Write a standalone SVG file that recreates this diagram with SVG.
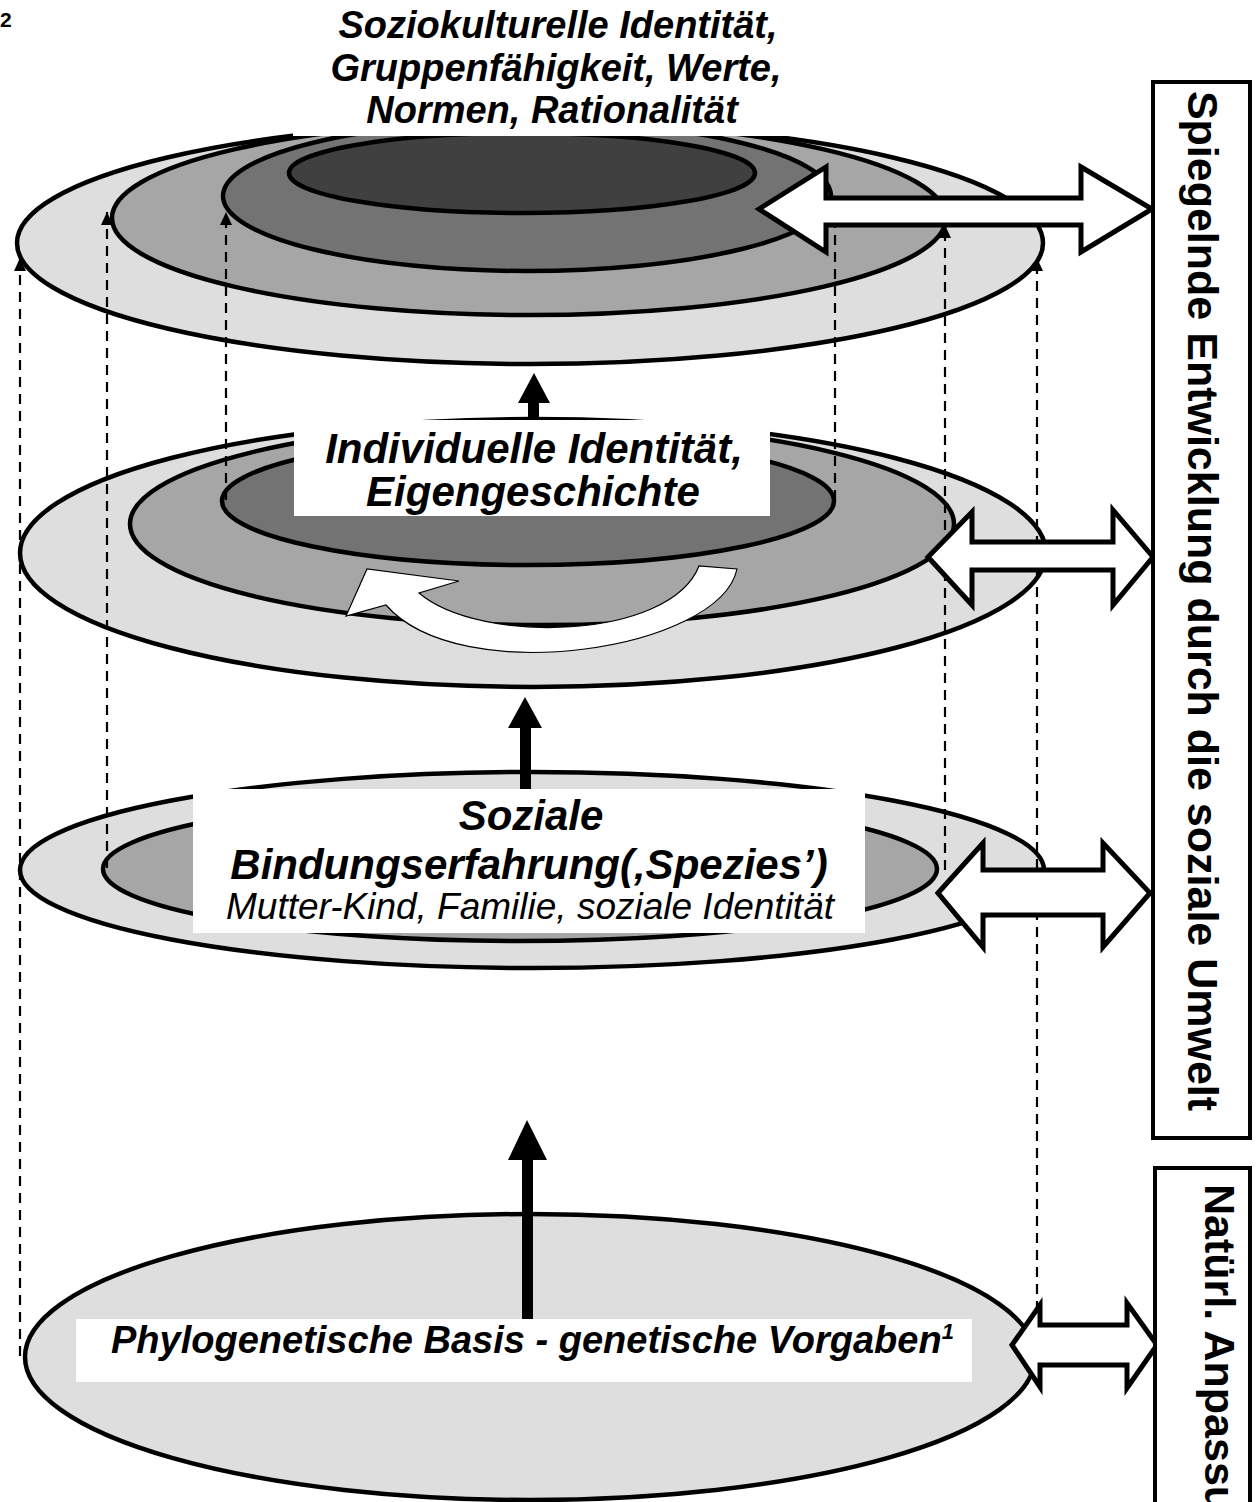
<svg xmlns="http://www.w3.org/2000/svg" width="1258" height="1502" viewBox="0 0 1258 1502">
<style>
.e{stroke:#000;stroke-width:4.5}
.c1{fill:#dedede}.c2{fill:#a6a6a6}.c3{fill:#737373}.c4{fill:#404040}
.t{font-family:"Liberation Sans",Arial,sans-serif;font-weight:bold;font-style:italic;fill:#000}
.n{font-family:"Liberation Sans",Arial,sans-serif;font-style:italic;fill:#000}
.num{font-family:"Liberation Sans",Arial,sans-serif;font-weight:bold;font-size:21px;fill:#000}
.v{font-family:"Liberation Sans",Arial,sans-serif;font-weight:bold;font-size:43px;fill:#000}
.d{stroke:#000;stroke-width:2.2;stroke-dasharray:10 7;fill:none}
.da{fill:#fff;stroke:#000;stroke-width:5;stroke-linejoin:miter}
.box{fill:#fff}
.side{fill:#fff;stroke:#000;stroke-width:4}
</style>
<defs>
<marker id="ah" markerUnits="userSpaceOnUse" markerWidth="14" markerHeight="12" refX="13" refY="6" orient="auto">
<path d="M0,0 L13,6 L0,12 Z" fill="#000"/>
</marker>
</defs>
<rect width="1258" height="1502" fill="#fff"/>

<text class="num" x="0" y="27">2</text>

<g id="level-bottom">
<ellipse class="e c1" cx="530" cy="1357" rx="505" ry="143"/>
</g>

<g id="level-social">
<ellipse class="e c1" cx="532" cy="870" rx="512" ry="98"/>
<ellipse class="e c2" cx="520" cy="869" rx="417" ry="72"/>
</g>

<g id="level-individual">
<ellipse class="e c1" cx="533" cy="553" rx="513" ry="134"/>
<ellipse class="e c2" cx="542" cy="524" rx="412" ry="101"/>
<ellipse class="e c3" cx="528" cy="501" rx="306" ry="64"/>
</g>

<g id="level-top">
<ellipse class="e c1" cx="530" cy="243" rx="513" ry="121"/>
<ellipse class="e c2" cx="529" cy="218" rx="417" ry="97"/>
<ellipse class="e c3" cx="527" cy="196" rx="304" ry="75"/>
<ellipse class="e c4" cx="522" cy="173" rx="233" ry="40"/>
<rect class="box" x="293" y="0" width="504" height="136"/>
</g>

<g id="connectors">
<line class="d" x1="20" y1="1356" x2="20" y2="258" marker-end="url(#ah)"/>
<line class="d" x1="107" y1="868" x2="107" y2="212" marker-end="url(#ah)"/>
<line class="d" x1="226" y1="500" x2="226" y2="212" marker-end="url(#ah)"/>
<line class="d" x1="835" y1="500" x2="835" y2="196" marker-end="url(#ah)"/>
<line class="d" x1="945" y1="870" x2="945" y2="225" marker-end="url(#ah)"/>
<line class="d" x1="1037" y1="1345" x2="1037" y2="258" marker-end="url(#ah)"/>
<path d="M528,420 L528,403 L518,403 L534,373 L550,403 L539,403 L539,420 Z" fill="#000"/>
<path d="M520,792 L520,728 L508,728 L525,697 L542,728 L531,728 L531,792 Z" fill="#000"/>
<path d="M522,1319 L522,1160 L508,1160 L527,1120 L547,1160 L533,1160 L533,1319 Z" fill="#000"/>
<path d="M737,569 C720,650 460,690 386,605 L346,616 L367,569 L459,581 L419,593 C480,645 670,640 699,566 Z" fill="#fff" stroke="#000" stroke-width="1.2"/>
</g>

<g id="label-top">
<text class="t" font-size="38" text-anchor="middle"><tspan x="558" y="38">Soziokulturelle Identität,</tspan><tspan x="556" y="80.5">Gruppenfähigkeit, Werte,</tspan><tspan x="552" y="123">Normen, Rationalität</tspan></text>
</g>

<g id="label-individual">
<rect class="box" x="294" y="420" width="476" height="96"/>
<text class="t" font-size="42" text-anchor="middle"><tspan x="534" y="463">Individuelle Identität,</tspan><tspan x="533" y="506">Eigengeschichte</tspan></text>
</g>

<g id="label-social">
<rect class="box" x="193" y="789" width="672" height="144"/>
<text class="t" font-size="42" text-anchor="middle"><tspan x="531" y="830">Soziale</tspan><tspan x="529" y="879">Bindungserfahrung(‚Spezies’)</tspan></text>
<text class="n" font-size="37" text-anchor="middle" x="530" y="919">Mutter-Kind, Familie, soziale Identität</text>
</g>

<g id="label-bottom">
<rect class="box" x="76" y="1319" width="896" height="63"/>
<text class="t" font-size="38" x="111" y="1353">Phylogenetische Basis - genetische Vorgaben<tspan font-size="22" dy="-14">1</tspan></text>
</g>

<g id="double-arrows">
<polygon class="da" points="759,209 826,167 826,198 1081,198 1081,167 1152,209 1081,252 1081,225 826,225 826,252"/>
<polygon class="da" points="928,557 972,512 972,542 1113,542 1113,510 1153,557 1113,605 1113,570 972,570 972,605"/>
<polygon class="da" points="938,893 983,843 983,870 1103,870 1103,843 1150,893 1103,947 1103,915 983,915 983,947"/>
<polygon class="da" points="1012,1345 1040,1305 1040,1325 1127,1325 1127,1303 1157,1345 1127,1388 1127,1365 1040,1365 1040,1387"/>
</g>

<g id="box-spiegelnde">
<rect class="side" x="1153" y="82" width="97" height="1056"/>
<text class="v" transform="translate(1188,601) rotate(90)" text-anchor="middle">Spiegelnde Entwicklung durch die soziale Umwelt</text>
</g>

<g id="box-natuerl">
<rect class="side" x="1155" y="1168" width="95" height="360"/>
<text class="v" transform="translate(1205,1184) rotate(90)">Natürl. Anpassung</text>
</g>
</svg>
